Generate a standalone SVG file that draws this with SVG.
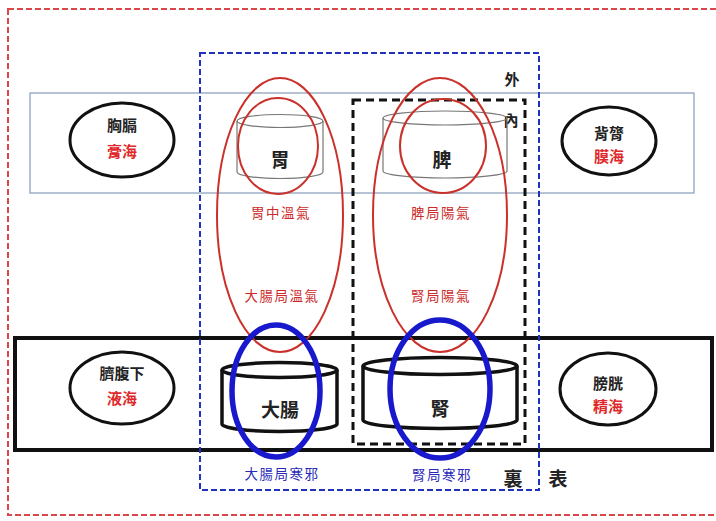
<svg xmlns="http://www.w3.org/2000/svg" width="716" height="521" viewBox="0 0 716 521">
<style>
text{font-family:"Noto Sans CJK TC","Noto Sans CJK SC",sans-serif;text-anchor:middle;dominant-baseline:central}
.blk{fill:#222;font-size:15px;font-weight:bold}
.red{fill:#e0282a;font-size:15px;font-weight:bold}
.rl{fill:#cc2a2a;font-size:13.5px;letter-spacing:1.5px}
.bl{fill:#2a2ab8;font-size:13.5px;letter-spacing:1.5px}
.big{fill:#222;font-size:19px;font-weight:bold}
.pill{fill:#fff;stroke:#111;stroke-width:3}
.cylT{fill:none;stroke:#777;stroke-width:1.2}
.cylB{fill:#fff;stroke:#111;stroke-width:3.5}
.rell{fill:none;stroke:#c9312a;stroke-width:2}
.bell{fill:none;stroke:#1818cc;stroke-width:5.5}
</style>
<rect width="716" height="521" fill="#fff"/>
<g id="frames">
<rect id="outer" x="8" y="9" width="712" height="506" fill="none" stroke="#d9474a" stroke-width="2" stroke-dasharray="6 3"/>
<rect id="band-top" x="30" y="93" width="664" height="100" fill="none" stroke="#8fa3bf" stroke-width="1.3"/>
<rect id="band-bottom" x="15" y="338" width="697" height="112" fill="none" stroke="#111" stroke-width="4"/>
<rect id="inner" x="353" y="100" width="172" height="344" fill="none" stroke="#111" stroke-width="3" stroke-dasharray="8 5"/>
<rect id="wai" x="200" y="53" width="339" height="437" fill="none" stroke="#2233bb" stroke-width="2" stroke-dasharray="6 3"/>
</g>
<g id="labels">
<text x="512" y="78" class="blk" font-size="16">外</text>
<text x="511" y="119" class="blk" font-size="16">內</text>
<text x="513" y="477" class="big">裏</text>
<text x="558" y="477" class="big">表</text>
</g>
<g id="node-xiongge">
<ellipse cx="122" cy="140" rx="52" ry="37" class="pill"/>
<text x="122" y="124" class="blk">胸膈</text>
<text x="122" y="150" class="red">膏海</text>
</g>
<g id="node-beilv">
<ellipse cx="609" cy="141" rx="47" ry="34" class="pill"/>
<text x="609" y="132" class="blk">背膂</text>
<text x="609" y="155" class="red">膜海</text>
</g>
<g id="node-qifuxia">
<ellipse cx="122" cy="388" rx="52" ry="36" class="pill"/>
<text x="122" y="372" class="blk">臍腹下</text>
<text x="122" y="397" class="red">液海</text>
</g>
<g id="node-panggguang">
<ellipse cx="608" cy="389" rx="48" ry="36" class="pill"/>
<text x="608" y="382" class="blk">膀胱</text>
<text x="608" y="405" class="red">精海</text>
</g>
<g id="node-wei">
<path d="M237 121 V172 A43 6.5 0 0 0 323 172 V121" class="cylT"/>
<ellipse cx="280" cy="121" rx="43" ry="6.5" class="cylT"/>
<text x="280" y="158" class="big">胃</text>
<ellipse cx="278" cy="146" rx="40" ry="48" class="rell"/>
<ellipse cx="280" cy="215" rx="63" ry="137" class="rell"/>
<text x="281" y="212" class="rl">胃中溫氣</text>
<text x="282" y="295" class="rl">大腸局溫氣</text>
</g>
<g id="node-pi">
<path d="M383 118 V171 A62 7 0 0 0 507 171 V118" class="cylT"/>
<ellipse cx="445" cy="118" rx="62" ry="7" class="cylT"/>
<text x="442" y="158" class="big">脾</text>
<ellipse cx="443" cy="146" rx="43" ry="47" class="rell"/>
<ellipse cx="440" cy="215" rx="67" ry="137" class="rell"/>
<text x="441" y="212" class="rl">脾局陽氣</text>
<text x="441" y="295" class="rl">腎局陽氣</text>
</g>
<g id="node-dachang">
<path d="M222 370 V424 A57.5 7.5 0 0 0 337 424 V370" class="cylB"/>
<ellipse cx="279.5" cy="370" rx="57.5" ry="7.5" class="cylB"/>
<text x="280" y="408" class="big">大腸</text>
<ellipse cx="276" cy="391" rx="44" ry="66" class="bell"/>
<text x="282" y="473" class="bl">大腸局寒邪</text>
</g>
<g id="node-shen">
<path d="M363 366 V420 A77 8.5 0 0 0 517 420 V366" class="cylB"/>
<ellipse cx="440" cy="366" rx="77" ry="8.5" class="cylB"/>
<text x="440" y="407" class="big">腎</text>
<ellipse cx="440" cy="389" rx="50" ry="69" class="bell"/>
<text x="442" y="474" class="bl">腎局寒邪</text>
</g>
</svg>
